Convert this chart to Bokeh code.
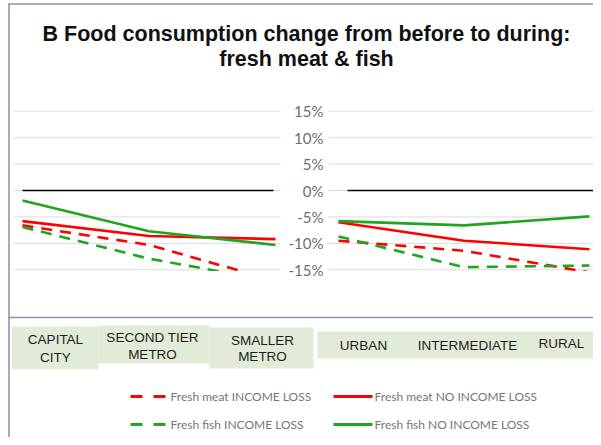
from bokeh.plotting import figure
from bokeh.models import Range1d, ColumnDataSource
from bokeh.core.properties import value
from bokeh.embed import file_html
from bokeh.resources import INLINE

# ---------------- data ----------------
left_categories = ["CAPITAL CITY", "SECOND TIER METRO", "SMALLER METRO"]
right_categories = ["URBAN", "INTERMEDIATE", "RURAL"]

# percent change, left panel (city size)
left_meat_income_loss = [-6.6, -10.3, -17.1]
left_meat_no_income_loss = [-5.8, -8.6, -9.2]
left_fish_income_loss = [-6.9, -12.9, -17.2]
left_fish_no_income_loss = [-1.9, -7.7, -10.3]

# percent change, right panel (urbanisation)
right_meat_income_loss = [-9.5, -11.4, -15.5]
right_meat_no_income_loss = [-6.0, -9.5, -11.1]
right_fish_income_loss = [-8.7, -14.5, -14.2]
right_fish_no_income_loss = [-5.8, -6.6, -4.9]

tick_values = [15, 10, 5, 0, -5, -10, -15]
tick_labels = ["15%", "10%", "5%", "0%", "-5%", "-10%", "-15%"]
axis_min = -15

series_names = ["Fresh meat INCOME LOSS", "Fresh meat NO INCOME LOSS",
                "Fresh fish INCOME LOSS", "Fresh fish NO INCOME LOSS"]

title_lines = ["B Food consumption change from before to during:", "fresh meat & fish"]

# ---------------- styling ----------------
RED = "#ff0000"
GREEN = "#1fa51f"
BORDER = "#8796b0"
BOX = "#e1ebd7"
GRID = "#dcdcdc"
DASH = "11 8"

W, H = 593, 437
X0, Y0 = 0, 0  # figure pixel (0,0) = picture pixel (0,0)

p = figure(width=W, height=H, output_backend="svg", toolbar_location=None,
           x_range=Range1d(X0, X0 + W), y_range=Range1d(Y0 + H, Y0),
           x_axis_type=None, y_axis_type=None, min_border=0,
           outline_line_color=None, background_fill_color="white")
p.grid.visible = False

# data ranges
zero_px, px_per_pct = 190.0, 5.286
p.extra_y_ranges = {"pct": Range1d(-(Y0 + H - zero_px) / px_per_pct,
                                   (zero_px - Y0) / px_per_pct)}
lx0, lstep = 22.0, 126.5
rx0, rstep = 338.0, 125.5
p.extra_x_ranges = {
    "left": Range1d((X0 - lx0) / lstep, (X0 + W - lx0) / lstep),
    "right": Range1d((X0 - rx0) / rstep, (X0 + W - rx0) / rstep),
}

# ---------------- borders ----------------
p.segment(x0=[8.5, 8], y0=[3, 3.5], x1=[8.5, 601], y1=[445, 3.5],
          line_color=BORDER, line_width=1.6)
p.segment(x0=[8], y0=[317], x1=[601], y1=[317], line_color=BORDER, line_width=1.6)

# ---------------- title ----------------
p.text(x=[306, 306], y=[33, 58], text=title_lines, text_align="center",
       text_baseline="middle", text_font=value("Liberation Sans"),
       text_font_style="bold", text_font_size="21.5px", text_color="#111111")

# ---------------- gridlines ----------------
grid_src = ColumnDataSource(dict(y=tick_values))
for xa, xb in [(13, 280), (328, 601)]:
    p.segment(x0=xa, x1=xb, y0="y", y1="y", source=grid_src,
              line_color=GRID, line_width=1, y_range_name="pct")
p.segment(x0=[22, 347], x1=[273, 599], y0=[0, 0], y1=[0, 0],
          line_color="black", line_width=1.5, y_range_name="pct")

# ---------------- series ----------------
idx = [0, 1, 2]
panels = [
    ("left", [left_meat_income_loss, left_meat_no_income_loss,
              left_fish_income_loss, left_fish_no_income_loss]),
    ("right", [right_meat_income_loss, right_meat_no_income_loss,
               right_fish_income_loss, right_fish_no_income_loss]),
]
styles = [(RED, DASH), (RED, "solid"), (GREEN, DASH), (GREEN, "solid")]
draw_order = [0, 2, 1, 3]
for xr, series in panels:
    for k in draw_order:
        col, dash = styles[k]
        p.line(idx, series[k], line_color=col, line_dash=dash, line_width=2.6,
               x_range_name=xr, y_range_name="pct")

# clip below the axis minimum (as the chart does)
p.quad(left=[10], right=[601], top=[axis_min - 0.25], bottom=[axis_min - 8],
       fill_color="white", line_color=None, y_range_name="pct")

# tick labels (drawn after the clip so they stay visible)
p.text(x=[323] * len(tick_values), y=tick_values, text=tick_labels,
       text_align="right", text_baseline="middle", text_font=value("Lato"),
       text_font_size="15px", text_color="#6e6e6e", y_range_name="pct")

# ---------------- category boxes ----------------
p.quad(left=[11.5, 98, 209, 317], right=[98, 209, 313, 601],
       top=[326, 325, 327, 331], bottom=[369, 363, 368, 358],
       fill_color=BOX, line_color=None)

cat_font = dict(text_font=value("Liberation Sans"), text_font_size="13.5px",
                text_color="#1e1e1e", text_baseline="middle", text_align="center")
left_lines = [c.split(" ", 1) if c != "SECOND TIER METRO" else ["SECOND TIER", "METRO"]
              for c in left_categories]
p.text(x=[55, 152, 262], y=[338.5, 337, 339.5],
       text=[l[0] for l in left_lines], **cat_font)
p.text(x=[55, 152, 262], y=[356.5, 354, 356],
       text=[l[1] for l in left_lines], **cat_font)
p.text(x=[363, 467, 561], y=[345, 345, 343], text=right_categories, **cat_font)

# ---------------- legend ----------------
leg_rows = [396, 424]
p.segment(x0=[130, 153, 130, 153], x1=[142, 165, 142, 165],
          y0=[396, 396, 424, 424], y1=[396, 396, 424, 424],
          line_color=[RED, RED, GREEN, GREEN], line_width=3)
p.segment(x0=[333, 333], x1=[372, 372], y0=leg_rows, y1=leg_rows,
          line_color=[RED, GREEN], line_width=3)
p.text(x=[170, 374, 170, 374], y=[396, 396, 424, 424],
       text=[series_names[0], series_names[1], series_names[2], series_names[3]],
       text_font=value("Lato"), text_font_size="12px", text_color="#767676",
       text_baseline="middle", text_align="left")

open("out.html", "w").write(file_html(p, INLINE))
